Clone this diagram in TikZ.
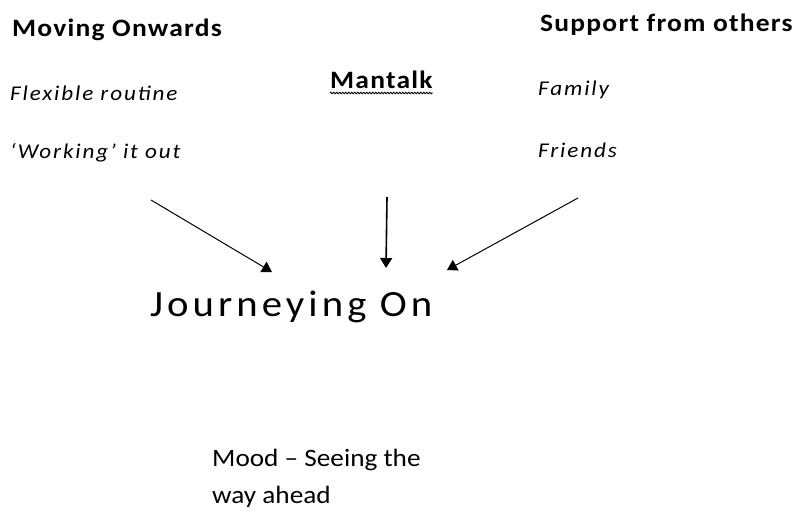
\documentclass[tikz,border=0pt]{standalone}
\usepackage{fontspec}
\setmainfont{Carlito}
\newfontfamily\headfont[FakeStretch=1.1,LetterSpace=5]{Carlito}
\newfontfamily\itemfont[FakeStretch=1.1,LetterSpace=9]{Carlito}
\newfontfamily\titlefont[FakeStretch=1.1,LetterSpace=11]{Carlito}
\newfontfamily\bodyfont[FakeStretch=1.09]{Carlito}
\usetikzlibrary{arrows.meta,decorations.pathmorphing}
\tikzset{
  heading/.style={anchor=base west,inner sep=0pt,font=\headfont\fontsize{25}{30}\selectfont\bfseries},
  item/.style={anchor=base west,inner sep=0pt,font=\itemfont\fontsize{21}{25}\selectfont\itshape},
  body/.style={anchor=base west,inner sep=0pt,font=\bodyfont\fontsize{25}{30}\selectfont},
  title/.style={anchor=base west,inner sep=0pt,font=\titlefont\fontsize{37}{44}\selectfont},
  link/.style={draw=black,line width=1pt,-{Triangle[length=10pt,width=12pt]}},
}
\begin{document}
\begin{tikzpicture}[x=1pt,y=-1pt]
\useasboundingbox (0,0) rectangle (799,511);
\node[heading] (mov) at (12,36.5) {Moving Onwards};
\node[item] (flex) at (10,100.5) {Flexible routine};
\node[item] (work) at (10,158) {‘Working’ it out};
\node[heading] (man) at (330,88) {Mantalk};
\draw[line width=0.8pt,decorate,decoration={zigzag,segment length=3pt,amplitude=0.8pt}]
  ([yshift=-5pt]man.base west) -- ([yshift=-5pt]man.base east);
\node[heading] (sup) at (540,31.5) {Support from others};
\node[item] (fam) at (538,95.5) {Family};
\node[item] (fri) at (538,157) {Friends};
\node[title] (jour) at (150,316.5) {Journeying On};
\node[body] (mood) at (212,466.5) {Mood – Seeing the};
\node[body] (way) at (212,503) {way ahead};
\coordinate (l0) at (151,200);
\coordinate (l1) at (272,272);
\coordinate (m0) at (387,197);
\coordinate (m1) at (386,268);
\coordinate (r0) at (578,198);
\coordinate (r1) at (447,270);
\draw[link] (l0) -- (l1);
\draw[link,line width=1.6pt] (m0) -- (m1);
\draw[link] (r0) -- (r1);
\end{tikzpicture}
\end{document}
